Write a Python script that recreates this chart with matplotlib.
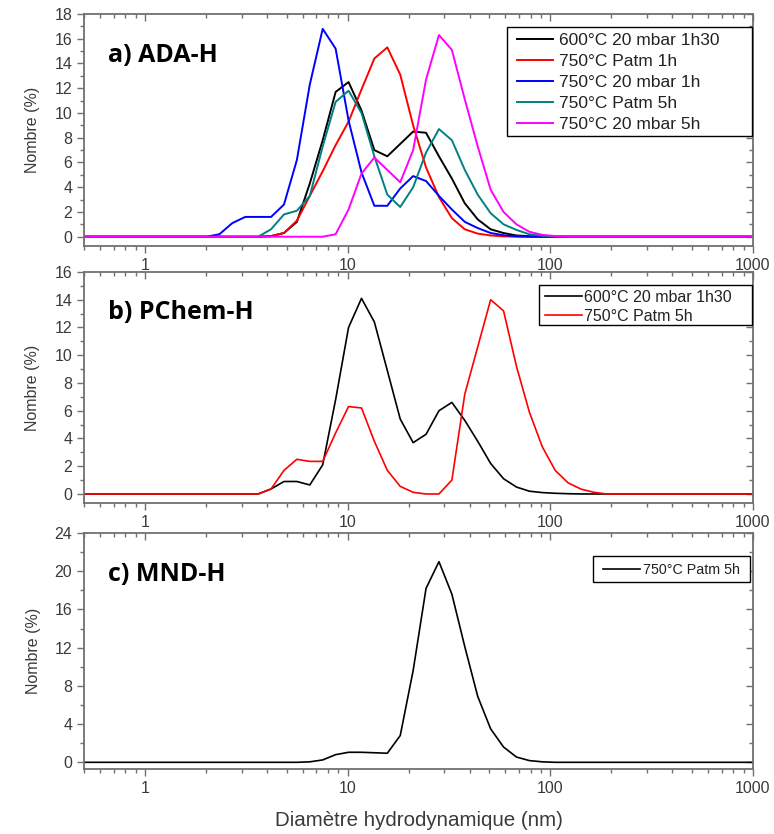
import matplotlib
matplotlib.use('Agg')
import matplotlib.pyplot as plt
from matplotlib.patches import Rectangle
from matplotlib.ticker import FixedLocator, FixedFormatter, LogLocator, NullFormatter, MultipleLocator

plt.rcParams['font.family'] = ['Liberation Sans', 'DejaVu Sans']

# Size bins (nm)
sizes = [0.4, 0.4632, 0.5365, 0.6213, 0.7195, 0.8332, 0.9649, 1.117, 1.294, 1.499,
         1.736, 2.01, 2.328, 2.696, 3.122, 3.615, 4.187, 4.849, 5.615, 6.503,
         7.531, 8.721, 10.1, 11.7, 13.54, 15.69, 18.17, 21.04, 24.36, 28.21,
         32.67, 37.84, 43.82, 50.75, 58.77, 68.06, 78.82, 91.28, 105.7, 122.4,
         141.8, 164.2, 190.1, 220.2, 255.0, 295.3, 342.0, 396.1, 458.7, 531.2,
         615.1, 712.4, 825.0, 955.4, 1106.0]

# Panel a) ADA-H
a_600_20mbar_1h30 = [0, 0, 0, 0, 0, 0, 0, 0, 0, 0,
                     0, 0, 0, 0, 0, 0, 0.05, 0.3, 1.2, 4.3,
                     7.8, 11.7, 12.5, 10.2, 7.0, 6.5, 7.5, 8.5, 8.4, 6.5,
                     4.7, 2.7, 1.4, 0.6, 0.3, 0.1, 0.05, 0, 0, 0,
                     0, 0, 0, 0, 0, 0, 0, 0, 0, 0,
                     0, 0, 0, 0, 0]
a_750_patm_1h = [0, 0, 0, 0, 0, 0, 0, 0, 0, 0,
                 0, 0, 0, 0, 0, 0, 0.05, 0.3, 1.3, 3.3,
                 5.3, 7.4, 9.3, 11.9, 14.4, 15.3, 13.1, 9.0, 5.6, 3.2,
                 1.5, 0.6, 0.25, 0.1, 0.03, 0, 0, 0, 0, 0,
                 0, 0, 0, 0, 0, 0, 0, 0, 0, 0,
                 0, 0, 0, 0, 0]
a_750_20mbar_1h = [0, 0, 0, 0, 0, 0, 0, 0, 0, 0,
                   0, 0, 0.2, 1.1, 1.6, 1.6, 1.6, 2.6, 6.2, 12.3,
                   16.8, 15.2, 9.4, 5.2, 2.5, 2.5, 3.9, 4.9, 4.5, 3.3,
                   2.2, 1.2, 0.7, 0.3, 0.12, 0.04, 0, 0, 0, 0,
                   0, 0, 0, 0, 0, 0, 0, 0, 0, 0,
                   0, 0, 0, 0, 0]
a_750_patm_5h = [0, 0, 0, 0, 0, 0, 0, 0, 0, 0,
                 0, 0, 0, 0, 0, 0, 0.6, 1.8, 2.1, 3.3,
                 7.3, 10.9, 11.8, 10.0, 6.5, 3.4, 2.4, 4.0, 6.8, 8.7,
                 7.8, 5.4, 3.4, 1.9, 1.0, 0.55, 0.2, 0.08, 0.02, 0,
                 0, 0, 0, 0, 0, 0, 0, 0, 0, 0,
                 0, 0, 0, 0, 0]
a_750_20mbar_5h = [0, 0, 0, 0, 0, 0, 0, 0, 0, 0,
                   0, 0, 0, 0, 0, 0, 0, 0, 0, 0,
                   0, 0.2, 2.2, 5.1, 6.4, 5.4, 4.4, 7.0, 12.7, 16.3,
                   15.1, 11.1, 7.3, 3.8, 2.0, 1.0, 0.4, 0.15, 0.05, 0,
                   0, 0, 0, 0, 0, 0, 0, 0, 0, 0,
                   0, 0, 0, 0, 0]

# Panel b) PChem-H
b_600_20mbar_1h30 = [0, 0, 0, 0, 0, 0, 0, 0, 0, 0,
                     0, 0, 0, 0, 0, 0, 0.36, 0.9, 0.9, 0.65,
                     2.1, 6.8, 12.0, 14.1, 12.4, 8.9, 5.4, 3.7, 4.3, 6.0,
                     6.6, 5.3, 3.8, 2.2, 1.1, 0.5, 0.2, 0.1, 0.05, 0.02,
                     0, 0, 0, 0, 0, 0, 0, 0, 0, 0,
                     0, 0, 0, 0, 0]
b_750_patm_5h = [0, 0, 0, 0, 0, 0, 0, 0, 0, 0,
                 0, 0, 0, 0, 0, 0, 0.36, 1.7, 2.5, 2.35,
                 2.35, 4.4, 6.3, 6.2, 3.8, 1.7, 0.55, 0.12, 0, 0,
                 1.0, 7.2, 10.6, 14.0, 13.2, 9.2, 5.9, 3.4, 1.7, 0.8,
                 0.35, 0.12, 0, 0, 0, 0, 0, 0, 0, 0,
                 0, 0, 0, 0, 0]

# Panel c) MND-H
c_750_patm_5h = [0, 0, 0, 0, 0, 0, 0, 0, 0, 0,
                 0, 0, 0, 0, 0, 0, 0, 0, 0, 0.05,
                 0.25, 0.8, 1.05, 1.05, 1.0, 0.95, 2.8, 9.6, 18.2, 21.0,
                 17.6, 12.1, 6.9, 3.5, 1.6, 0.55, 0.18, 0.05, 0, 0,
                 0, 0, 0, 0, 0, 0, 0, 0, 0, 0,
                 0, 0, 0, 0, 0]

labels_a = ['600°C 20 mbar 1h30', '750°C Patm 1h', '750°C 20 mbar 1h',
            '750°C Patm 5h', '750°C 20 mbar 5h']
colors_a = ['#000000', '#FF0000', '#0000FF', '#008080', '#FF00FF']
labels_b = ['600°C 20 mbar 1h30', '750°C Patm 5h']
colors_b = ['#000000', '#FF0000']
labels_c = ['750°C Patm 5h']

x_ticks = [1, 10, 100, 1000]
x_ticklabels = ['1', '10', '100', '1000']

W, H = 774, 834
fig = plt.figure(figsize=(W / 100, H / 100), dpi=100)

def rect(l, t, r, b):
    return [l / W, 1 - b / H, (r - l) / W, (b - t) / H]

spine_c = '#707070'
text_c = '#3a3a3a'

def style(ax, ylim, ymaj, ymin):
    ax.set_xscale('log')
    ax.set_xlim(0.5, 1000)
    ax.set_ylim(*ylim)
    ax.xaxis.set_major_locator(FixedLocator(x_ticks))
    ax.xaxis.set_major_formatter(FixedFormatter(x_ticklabels))
    ax.xaxis.set_minor_locator(LogLocator(base=10, subs=range(2, 10)))
    ax.xaxis.set_minor_formatter(NullFormatter())
    ax.yaxis.set_major_locator(MultipleLocator(ymaj))
    ax.yaxis.set_minor_locator(MultipleLocator(ymin))
    for s in ax.spines.values():
        s.set_color(spine_c)
        s.set_linewidth(1.3)
    ax.tick_params(axis='both', which='both', colors=spine_c, labelcolor=text_c,
                   labelsize=11.5, width=1.0)
    ax.tick_params(axis='both', which='major', length=5)
    ax.tick_params(axis='both', which='minor', length=3)
    ax.tick_params(axis='x', which='both', top=True, bottom=True)
    ax.tick_params(axis='y', which='both', left=True, right=True)
    ax.set_ylabel('Nombre (%)', fontsize=11.5, color=text_c, labelpad=10)
    for t in ax.xaxis.get_major_ticks() + ax.xaxis.get_minor_ticks():
        t.tick2line.set_marker(3)
    for t in ax.yaxis.get_major_ticks() + ax.yaxis.get_minor_ticks():
        t.tick2line.set_marker(0)

def title(ax, txt):
    ax.text(0.036, 0.795, txt, transform=ax.transAxes, fontsize=18,
            fontweight='bold', family=['Open Sans', 'DejaVu Sans'], va='baseline')

def legend(ax, fs, anchor, frame, hl, htp, ls):
    lg = ax.legend(loc='upper left', bbox_to_anchor=anchor, fontsize=fs,
                   frameon=False, borderaxespad=0, borderpad=0,
                   handlelength=hl, handletextpad=htp, labelspacing=ls)
    lg.set_zorder(6)
    for t in lg.get_texts():
        t.set_color('#222222')
    x0, y0, w, h = frame
    ax.add_patch(Rectangle((x0, y0), w, h, transform=ax.transAxes,
                           facecolor='white', edgecolor='black', lw=1.0,
                           zorder=5, clip_on=False))

# Panel a
ax1 = fig.add_axes(rect(84, 14, 753, 246))
series_a = [a_600_20mbar_1h30, a_750_patm_1h, a_750_20mbar_1h, a_750_patm_5h, a_750_20mbar_5h]
for ys, c, lab in zip(series_a, colors_a, labels_a):
    ax1.plot(sizes, ys, color=c, lw=1.4, label=lab)
style(ax1, (-0.75, 18), 2, 1)
title(ax1, 'a) ADA-H')
legend(ax1, 12.5, (0.647, 0.918), (0.6323, 0.474, 0.3662, 0.470), 2.07, 0.35, 0.33)

# Panel b
ax2 = fig.add_axes(rect(84, 272, 753, 503))
for ys, c, lab in zip([b_600_20mbar_1h30, b_750_patm_5h], colors_b, labels_b):
    ax2.plot(sizes, ys, color=c, lw=1.2, label=lab)
style(ax2, (-0.65, 16), 2, 1)
title(ax2, 'b) PChem-H')
legend(ax2, 11.5, (0.689, 0.924), (0.680, 0.7706, 0.3184, 0.173), 2.3, 0.12, 0.26)

# Panel c
ax3 = fig.add_axes(rect(84, 533, 753, 769))
ax3.plot(sizes, c_750_patm_5h, color='#000000', lw=1.2, label=labels_c[0])
style(ax3, (-0.7, 24), 4, 2)
title(ax3, 'c) MND-H')
legend(ax3, 10.3, (0.776, 0.874), (0.761, 0.792, 0.2347, 0.110), 2.6, 0.2, 0.2)
ax3.set_xlabel('Diamètre hydrodynamique (nm)', fontsize=14.8, color=text_c, labelpad=11)

fig.savefig('out.png', dpi=100)
